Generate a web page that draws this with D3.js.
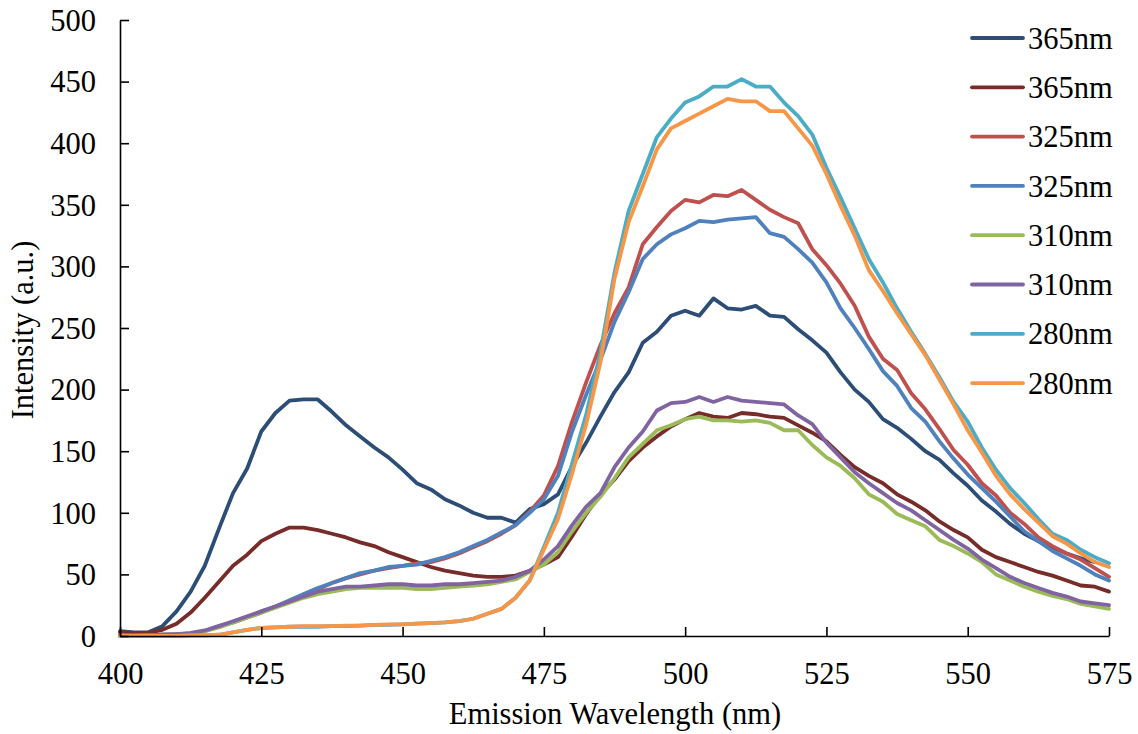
<!DOCTYPE html>
<html>
<head>
<meta charset="utf-8">
<script src="https://cdn.jsdelivr.net/npm/d3@7"></script>
<style>
  html, body { margin: 0; padding: 0; background: #ffffff; }
  svg { display: block; }
</style>
</head>
<body>
<svg id="chart" width="1138" height="734"></svg>
<script>
// ---------------- DATA ----------------
const wavelengths = [400,402.5,405,407.5,410,412.5,415,417.5,420,422.5,425,427.5,430,432.5,435,437.5,440,442.5,445,447.5,450,452.5,455,457.5,460,462.5,465,467.5,470,472.5,475,477.5,480,482.5,485,487.5,490,492.5,495,497.5,500,502.5,505,507.5,510,512.5,515,517.5,520,522.5,525,527.5,530,532.5,535,537.5,540,542.5,545,547.5,550,552.5,555,557.5,560,562.5,565,567.5,570,572.5,575];

const ex365a = [4,3,3,8,20,36,57,87,116,136,166,181,191,192,192,182,171,162,153,145,135,124,119,111,106,100,96,96,92,103,107,115,138,157,178,198,214,238,247,260,264,260,274,266,265,268,260,259,249,240,230,214,200,190,176,169,160,150,143,132,122,110,101,91,83,77,72,67,63,60,null];
const ex365b = [3,2.5,2.5,5,10,19,31,44,57,66,77,83,88,88,86,83,80,76,73,68,64,60,56,53,51,49,48,48,49,53,58,64,81,99,115,127,142,153,162,170,176,181,178,177,181,180,178,177,171,165,158,147,137,130,124,115,109,102,93,86,80,70,64,60,56,52,49,45,41,40,36];
const ex325a = [0.5,0.5,0.5,1,1,2,4,8,11,15,19,24,28,33,38,43,47,50,53,55,57,59,60,63,67,72,77,83,90,101,114,138,174,206,236,262,283,318,332,345,354,352,358,357,362,354,346,340,335,314,301,286,268,243,225,216,197,184,168,151,139,124,114,100,91,80,73,67,62,55,48];
const ex325b = [1,0.5,0.5,1,1.5,2,4,8,11,15,20,24,29,34,39,43,47,51,53,56,57,58,61,64,68,73,78,84,90,100,111,130,166,196,224,255,279,306,318,326,331,337,336,338,339,340,327,324,314,303,287,266,250,233,215,203,185,174,158,144,131,120,109,97,85,77,69,63,57,50,45];
const ex310a = [0,0,0.5,1,1,2,4,7,11,15,19,23,27,31,34,36,38,39,39,39,39,38,38,39,40,41,42,44,46,52,58,68,85,100,113,128,145,156,167,171,176,178,175,175,174,175,173,167,167,155,145,138,128,115,109,99,94,89,78,73,67,60,50,45,40,36,32.5,30,26,24,22];
const ex310b = [0,0,0.5,1,1.5,2.5,4.5,8,12,16,20,24,28,32,36,38,40,40,41,42,42,41,41,42,42,43,44,45,48,53,62,73,90,105,116,137,153,166,183,189,190,194,190,194,191,190,189,188,179,172,157,145,133,124,116,108,102,94,86,78,71,62,55,48,43,39,35,32,28,26.5,25];
const ex280a = [0,0,0,0,0,0.5,0.5,1,3,5,6.5,7,7.5,7.5,7.5,8,8,8.5,9,9,9.5,10,10.5,11,12,14,18,22,31,45,72,100,140,180,230,295,345,375,405,420,433,438,446,446,452,446,446,433,422,407,380,356,331,306,287,266,247,229,210,190,174,153,135,120,108,95,83,78,70,64,59];
const ex280b = [0,0,0,0,0,0.5,0.5,1,3,5,6.5,7,7.5,8,8,8,8.5,8.5,9,9.5,9.5,10,10.5,11,12,14,18,22,31,45,70,95,132,172,222,290,336,365,395,412,418,424,430,436,434,434,426,426,412,398,375,349,325,297,280,262,245,228,208,188,167,149,130,115,103,92,81,75,67,60,56];

const seriesNames = ["365nm","365nm","325nm","325nm","310nm","310nm","280nm","280nm"];
const seriesColors = ["#2C4D75","#772C2A","#C0504D","#4F81BD","#9BBB59","#8064A2","#4BACC6","#F79646"];
const seriesValues = [ex365a, ex365b, ex325a, ex325b, ex310a, ex310b, ex280a, ex280b];

const xTicks = [400,425,450,475,500,525,550,575];
const yTicks = [0,50,100,150,200,250,300,350,400,450,500];
const xTitle = "Emission Wavelength (nm)";
const yTitle = "Intensity (a.u.)";

// ---------------- FONT PICK ----------------
function fontAvailable(name) {
  const c = document.createElement("canvas").getContext("2d");
  const sample = "mmmmmmmmmmWWWiiilll0123456789";
  const res = [];
  for (const base of ["monospace", "sans-serif"]) {
    c.font = "40px " + base;
    const w0 = c.measureText(sample).width;
    c.font = "40px '" + name + "', " + base;
    const w1 = c.measureText(sample).width;
    res.push(w0 !== w1);
  }
  return res[0] || res[1];
}
const serifCandidates = ["Liberation Serif", "Times New Roman", "Tinos", "Nimbus Roman", "FreeSerif", "Noto Serif", "DejaVu Serif"];
const chosen = serifCandidates.find(fontAvailable) || "serif";
const FONT = "'" + chosen + "', serif";
const FS = 30.5;

// ---------------- LAYOUT ----------------
const svg = d3.select("#chart");
const plot = { left: 120, right: 1109, top: 20, bottom: 636 };

const x = d3.scaleLinear().domain([400, 575]).range([plot.left, plot.right]);
const y = d3.scaleLinear().domain([0, 500]).range([plot.bottom, plot.top]);

const line = d3.line()
  .defined(d => d.v !== null)
  .x(d => x(d.w))
  .y(d => y(d.v));

const gLines = svg.append("g");
seriesValues.forEach((vals, i) => {
  const pts = wavelengths.map((w, k) => ({ w: w, v: vals[k] }));
  gLines.append("path")
    .datum(pts)
    .attr("fill", "none")
    .attr("stroke", seriesColors[i])
    .attr("stroke-width", 3.8)
    .attr("stroke-linejoin", "round")
    .attr("stroke-linecap", "round")
    .attr("d", line);
});

const xAxis = d3.axisBottom(x).tickValues(xTicks).tickSizeInner(-9).tickSizeOuter(0).tickPadding(26);
const yAxis = d3.axisLeft(y).tickValues(yTicks).tickSizeInner(-9).tickSizeOuter(0).tickPadding(24);

const gx = svg.append("g").attr("transform", `translate(0,${plot.bottom})`).call(xAxis);
const gy = svg.append("g").attr("transform", `translate(${plot.left},0)`).call(yAxis);

[gx, gy].forEach(g => {
  g.attr("font-family", FONT).attr("font-size", FS);
  g.select(".domain").attr("stroke", "#000").attr("stroke-width", 1.6);
  g.selectAll(".tick line").attr("stroke", "#000").attr("stroke-width", 1.6);
  g.selectAll(".tick text").attr("fill", "#000");
});
gx.selectAll(".tick text").attr("dy", "0.71em");
gy.selectAll(".tick text").attr("dy", "0.34em");

svg.append("text")
  .attr("x", 615)
  .attr("y", 724)
  .attr("text-anchor", "middle")
  .attr("font-family", FONT)
  .attr("font-size", FS)
  .attr("fill", "#000")
  .text(xTitle);

svg.append("text")
  .attr("transform", "translate(33,330) rotate(-90)")
  .attr("text-anchor", "middle")
  .attr("font-family", FONT)
  .attr("font-size", FS)
  .attr("fill", "#000")
  .text(yTitle);

const legend = svg.append("g");
const legendTop = 38, legendStep = 49.3;
seriesNames.forEach((name, i) => {
  const cy = legendTop + i * legendStep;
  legend.append("line")
    .attr("x1", 972).attr("x2", 1023)
    .attr("y1", cy).attr("y2", cy)
    .attr("stroke", seriesColors[i])
    .attr("stroke-width", 3.8)
    .attr("stroke-linecap", "round");
  legend.append("text")
    .attr("x", 1028)
    .attr("y", cy)
    .attr("dy", "0.35em")
    .attr("font-family", FONT)
    .attr("font-size", FS)
    .attr("fill", "#000")
    .text(name);
});
</script>
</body>
</html>
